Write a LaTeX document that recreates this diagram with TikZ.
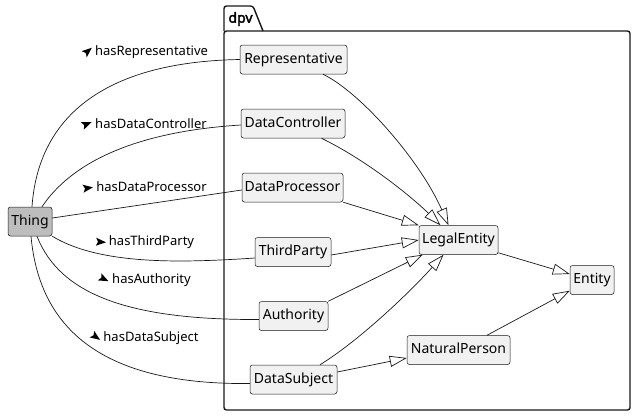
\documentclass[tikz,border=0pt]{standalone}
\usepackage{fontspec}
\setmainfont{Noto Sans}
\newfontfamily\pkgfont{Noto Sans}[FakeBold=2.5]
\usetikzlibrary{arrows.meta}
\definecolor{linec}{HTML}{181818}
\definecolor{boxfill}{HTML}{F1F1F1}
\definecolor{thingfill}{HTML}{BDBDBD}
\tikzset{
  cls/.style={draw=linec, line width=0.5pt, fill=boxfill, rounded corners=2.5pt,
    minimum height=29pt, inner xsep=1pt, inner ysep=0pt,
    font=\fontsize{14}{16}\selectfont, text height=10.5pt, text depth=3pt},
  lbl/.style={font=\fontsize{13}{15}\selectfont, inner sep=0pt, text height=9.5pt, text depth=2.5pt},
  rel/.style={draw=linec, line width=0.7pt},
  isa/.style={draw=linec, line width=0.7pt, -{Triangle[open,length=17pt,width=11pt]}},
  mk/.style={fill=black},
}
\newcommand{\dirmark}[3]{\fill[mk, shift={(#1,#2)}, rotate=#3] (5pt,0pt) -- (-5pt,4pt) -- (-3pt,0pt) -- (-5pt,-4pt) -- cycle;}
\begin{document}
\begin{tikzpicture}[x=1pt,y=-1pt]
\useasboundingbox (0,0) rectangle (636,416);
% package
\draw[linec, line width=1.4pt, rounded corners=2.5pt] (224,31) -- (224,6) -- (253,6) -- (263,31);
\draw[linec, line width=1.4pt, rounded corners=2.5pt] (224,31) -- (630,31) -- (630,410) -- (224,410) -- cycle;
\node[font=\pkgfont\fontsize{14}{16}\selectfont, inner sep=0pt] (pkg) at (240.5,19) {dpv};
% nodes
\node[cls, fill=thingfill, minimum width=44pt] (Thing) at (30,221.5) {Thing};
\node[cls, minimum width=107pt] (Representative) at (293.5,59.5) {Representative};
\node[cls, minimum width=104pt] (DataController) at (293,123.5) {DataController};
\node[cls, minimum width=101pt] (DataProcessor) at (292.5,187.5) {DataProcessor};
\node[cls, minimum width=76pt] (ThirdParty) at (293,252) {ThirdParty};
\node[cls, minimum width=69pt] (Authority) at (293.5,316) {Authority};
\node[cls, minimum width=87pt] (DataSubject) at (293.5,379.5) {DataSubject};
\node[cls, minimum width=79pt] (LegalEntity) at (458.5,240) {LegalEntity};
\node[cls, minimum width=44pt] (Entity) at (592,280) {Entity};
\node[cls, minimum width=103pt] (NaturalPerson) at (458.5,350) {NaturalPerson};
% Thing relations
\draw[rel] ([xshift=2pt]Thing.north) .. controls (38,120) and (100,62) .. (Representative.west);
\draw[rel] ([xshift=12pt]Thing.north) .. controls (70,165) and (130,132) .. ([yshift=-1.5pt]DataController.west);
\draw[rel] ([yshift=3.5pt]Thing.east) -- ([yshift=-2.5pt]DataProcessor.west);
\draw[rel] (Thing.south east) .. controls (100,265) and (180,263) .. ([yshift=-6pt]ThirdParty.west);
\draw[rel] ([xshift=7pt]Thing.south) .. controls (60,295) and (130,320) .. ([yshift=-3.5pt]Authority.west);
\draw[rel] ([xshift=1pt]Thing.south) .. controls (40,335) and (110,385) .. ([yshift=-4pt]DataSubject.west);
% labels
\node[lbl] (l1) at (151.5,52) {hasRepresentative};
\node[lbl] (l2) at (151,125) {hasDataController};
\node[lbl] (l3) at (151.5,188) {hasDataProcessor};
\node[lbl] (l4) at (151.5,242) {hasThirdParty};
\node[lbl] (l5) at (151.5,280) {hasAuthority};
\node[lbl] (l6) at (151,338) {hasDataSubject};
\dirmark{88}{51}{40}
\dirmark{87}{124}{22}
\dirmark{88}{188}{8}
\dirmark{101}{242}{-3}
\dirmark{104}{279}{-26}
\dirmark{96}{337}{-35}
% generalisations
\draw[isa] ([xshift=29.5pt]Representative.south) .. controls (360,92) and (420,160) .. ([xshift=-10pt]LegalEntity.north);
\draw[isa] ([xshift=28.5pt]DataController.south) .. controls (370,162) and (415,200) .. ([xshift=-18pt]LegalEntity.north);
\draw[isa] (DataProcessor.south east) -- (LegalEntity.north west);
\draw[isa] ([yshift=-3pt]ThirdParty.east) -- (LegalEntity.west);
\draw[isa] (Authority.north east) -- ([xshift=4pt]LegalEntity.south west);
\draw[isa] ([xshift=26.5pt]DataSubject.north) .. controls (360,340) and (410,292) .. ([xshift=-15pt]LegalEntity.south);
\draw[isa] ([yshift=7.5pt]DataSubject.east) -- ([yshift=-8pt]NaturalPerson.west);
\draw[isa] ([yshift=2pt]LegalEntity.south east) -- ([yshift=6pt]Entity.west);
\draw[isa] ([xshift=28.5pt]NaturalPerson.north) -- ([yshift=4pt]Entity.south west);
\end{tikzpicture}
\end{document}
